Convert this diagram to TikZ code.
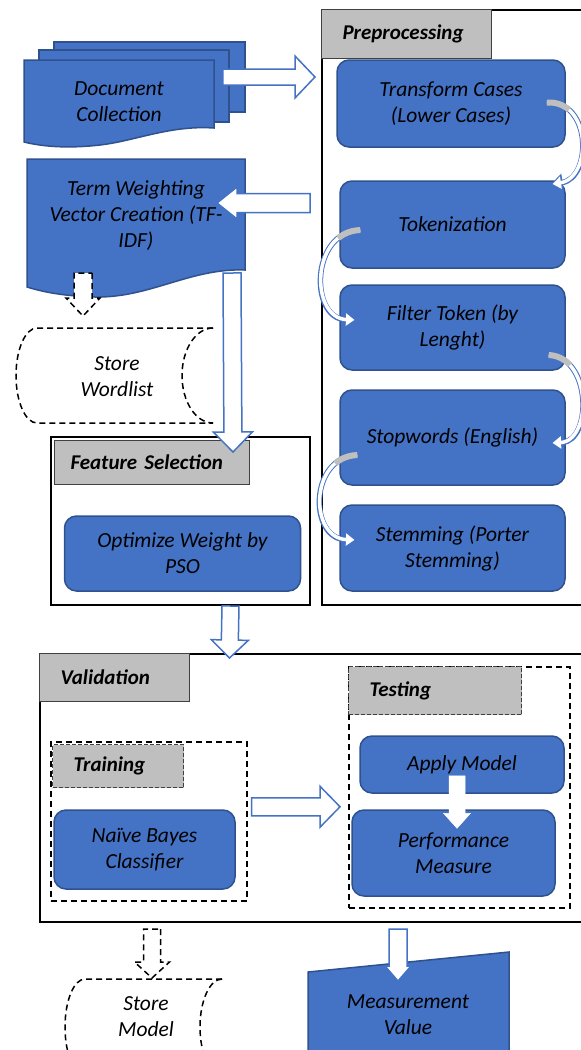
\documentclass[tikz,border=0pt]{standalone}
\usepackage{fontspec}
\setmainfont{Carlito}
\usetikzlibrary{arrows.meta,positioning,calc}

\definecolor{boxblue}{HTML}{4472C4}
\definecolor{boxline}{HTML}{2F528F}
\definecolor{headgray}{HTML}{BFBFBF}

\begin{document}
\begin{tikzpicture}[
    x=1pt, y=-1pt,
    txt/.style={font=\fontsize{21.5}{26}\selectfont\itshape, align=center},
    proc/.style={rectangle, rounded corners=12pt, draw=boxline, line width=1.5pt, fill=boxblue, txt},
    sheet/.style={rectangle, draw=boxline, line width=1.5pt, fill=boxblue},
    docshape/.style={fill=boxblue, draw=boxline, line width=1.5pt},
    frame/.style={rectangle, draw=black, line width=2pt, anchor=north west, inner sep=0pt},
    dframe/.style={rectangle, draw=black, line width=1.5pt, dash pattern=on 6pt off 4pt, anchor=north west, inner sep=0pt},
    hdr/.style={rectangle, draw=black!75, line width=1pt, fill=headgray, anchor=north west, inner xsep=21pt, inner ysep=0pt, align=left, font=\fontsize{21}{26}\selectfont\bfseries\itshape},
    store/.style={draw=black, line width=1.5pt, dash pattern=on 6pt off 4pt},
    blockarrow/.style n args={3}{to path={let \p1=(\tikztostart), \p2=(\tikztotarget), \n1={atan2(\y2-\y1,\x2-\x1)} in
        ($(\p1)+(\n1+90:#1)$) -- ($(\p2)+(\n1:-#3)+(\n1+90:#1)$) -- ($(\p2)+(\n1:-#3)+(\n1+90:#2)$) -- (\p2)
        -- ($(\p2)+(\n1:-#3)+(\n1-90:#2)$) -- ($(\p2)+(\n1:-#3)+(\n1-90:#1)$) -- ($(\p1)+(\n1-90:#1)$) -- cycle}},
    bigarrow/.style={draw=boxblue, line width=1.5pt, fill=white, line join=miter},
    dasharrow/.style={draw=black, line width=1.5pt, fill=white, dash pattern=on 6pt off 4pt},
    bendarrow/.style={draw=boxblue, line width=5.5pt, -{Triangle[length=12pt,width=17pt]},
        postaction={draw=white, line width=3.5pt, shorten >=1.8pt, -{Triangle[length=8.5pt,width=12pt]}},
        postaction={draw=black!25, line width=6pt, dash pattern=on 24pt off 600pt, -}}
]
\useasboundingbox (0,0) rectangle (581,1050);
\clip (0,0) rectangle (581,1050);

% Document collection
\node[sheet, minimum width=191pt, minimum height=70pt] (docback) at (149.5,77) {};
\node[sheet, minimum width=190pt, minimum height=72pt] (docmid) at (134,86) {};
\filldraw[docshape] (24,60) -- (214,60) -- (214,128) .. controls (170,125) and (135,141) .. (100,145)
    .. controls (65,149) and (40,146) .. (24,142) -- cycle;
\node[txt] (docs) at (119,102) {Document\\Collection};

% Term weighting
\filldraw[docshape] (27,159) -- (245,159) -- (245,270) .. controls (190,268) and (150,298) .. (95,297)
    .. controls (60,296) and (40,291) .. (27,287) -- cycle;
\node[txt] (tfidf) at (136,216) {Term Weighting\\Vector Creation (TF-\\IDF)};

% Store wordlist
\draw[store] (213,328) -- (37,328) arc[start angle=270, end angle=90, x radius=21, y radius=47.5] -- (213,423);
\draw[store] (213,328) arc[start angle=270, end angle=90, x radius=31, y radius=47.5];
\node[txt] (wordlist) at (117,376.5) {Store\\Wordlist};

% Preprocessing
\node[frame, minimum width=266pt, minimum height=595pt] (prep) at (321,9) {};
\node[hdr, text width=128pt, minimum height=49pt] (prephead) at (321,9) {Preprocessing};
\node[proc, minimum width=228pt, minimum height=87pt] (lower) at (451,103.5) {Transform Cases\\(Lower Cases)};
\node[proc, minimum width=225pt, minimum height=87pt] (token) at (452.5,224.5) {Tokenization};
\node[proc, minimum width=225pt, minimum height=85pt] (filter) at (452.5,327.5) {Filter Token (by\\Lenght)};
\node[proc, minimum width=225pt, minimum height=95pt] (stop) at (452.5,437.5) {Stopwords (English)};
\node[proc, minimum width=225pt, minimum height=86pt] (stem) at (452.5,548) {Stemming (Porter\\Stemming)};

% Feature selection
\node[frame, minimum width=259pt, minimum height=168pt] (feat) at (50,436) {};
\node[hdr, inner xsep=16pt, text width=163pt, minimum height=44pt] (feathead) at (54,440) {Feature Selection};
\node[proc, minimum width=236pt, minimum height=75pt] (pso) at (182.5,553.5) {Optimize Weight by\\PSO};

% Validation
\node[frame, minimum width=548pt, minimum height=268pt] (valid) at (39,653) {};
\node[hdr, text width=108pt, minimum height=48pt] (validhead) at (39,653) {Validation};
\node[dframe, minimum width=196pt, minimum height=159pt] (train) at (50,741) {};
\node[hdr, dash pattern=on 4pt off 2pt, text width=89pt, minimum height=43pt] (trainhead) at (52,744) {Training};
\node[proc, minimum width=181pt, minimum height=79pt] (nb) at (144.5,849.5) {Naïve Bayes\\Classifier};
\node[dframe, minimum width=221pt, minimum height=241pt] (test) at (348,666) {};
\node[hdr, dash pattern=on 4pt off 2pt, text width=131pt, minimum height=48pt] (testhead) at (348,666) {Testing};
\node[proc, minimum width=204pt, minimum height=57pt] (apply) at (462,764.5) {Apply Model};
\node[proc, minimum width=203pt, minimum height=86pt] (perf) at (453.5,853) {Performance\\Measure};

% Outputs
\draw[store] (222,979) -- (85,979) arc[start angle=270, end angle=90, x radius=20, y radius=48] -- (222,1075);
\draw[store] (222,979) arc[start angle=270, end angle=90, x radius=22, y radius=48];
\node[txt] (model) at (146,1016.5) {Store\\Model};
\filldraw[docshape] (308,972) -- (509,952) -- (509,1060) -- (308,1060) -- cycle;
\node[txt] (measure) at (408,1015) {Measurement\\Value};

% Preprocessing chain
\draw[bendarrow] ($(lower.east)+(-19,-1)$) .. controls (592,100) and (592,178) .. ($(token.north east)+(-15,4)$);
\draw[bendarrow] ($(token.west)+(21,5.5)$) .. controls (310,232) and (310,318) .. ($(filter.west)+(17,-7.5)$);
\draw[bendarrow] ($(filter.east)+(-17,27.5)$) .. controls (592,357) and (592,441) .. ($(stop.east)+(-15,5.5)$);
\draw[bendarrow] ($(stop.west)+(18,17.5)$) .. controls (309,457) and (309,538) .. ($(stem.west)+(17,-8)$);

% Block arrows
\draw[bigarrow, blockarrow={8pt}{21pt}{20pt}] ($(docback.east)+(-23,0)$) to ($(docback.east -| prep.west)+(-6,0)$);
\draw[bigarrow, blockarrow={9.5pt}{16pt}{20pt}] ($(prep.west |- tfidf)+(-11,-13)$) to ($(tfidf)+(81,-13)$);
\draw[bigarrow, blockarrow={9pt}{19.5pt}{20pt}] ($(tfidf)+(96,57)$) to ($(feat.north)+(52.5,16)$);
\draw[bigarrow, blockarrow={8.5pt}{18.5pt}{18pt}] ($(feat.south)+(50,0)$) to ($(valid.north west)+(190.5,5)$);
\draw[bigarrow, blockarrow={9pt}{20.5pt}{20pt}] ($(train.east)+(4,-14.5)$) to ($(train.east -| test.west)+(-8,-14.5)$);
\draw[fill=white, draw=white, line width=0.5pt, blockarrow={8pt}{13.5pt}{15pt}] ($(apply.south)+(-5,-18)$) to ($(perf.north)+(3.5,19)$);
\draw[bigarrow, blockarrow={9pt}{13pt}{15pt}] ($(valid.south west)+(359,6)$) to ($(measure)+(-10,-34)$);
\draw[dasharrow, blockarrow={9pt}{17pt}{18pt}] ($(tfidf)+(-53,57)$) to ($(wordlist)+(-34,-60.5)$);
\draw[dasharrow, blockarrow={8.5pt}{17.5pt}{16pt}] ($(valid.south west)+(113,6)$) to ($(model)+(6,-38.5)$);
\end{tikzpicture}
\end{document}
